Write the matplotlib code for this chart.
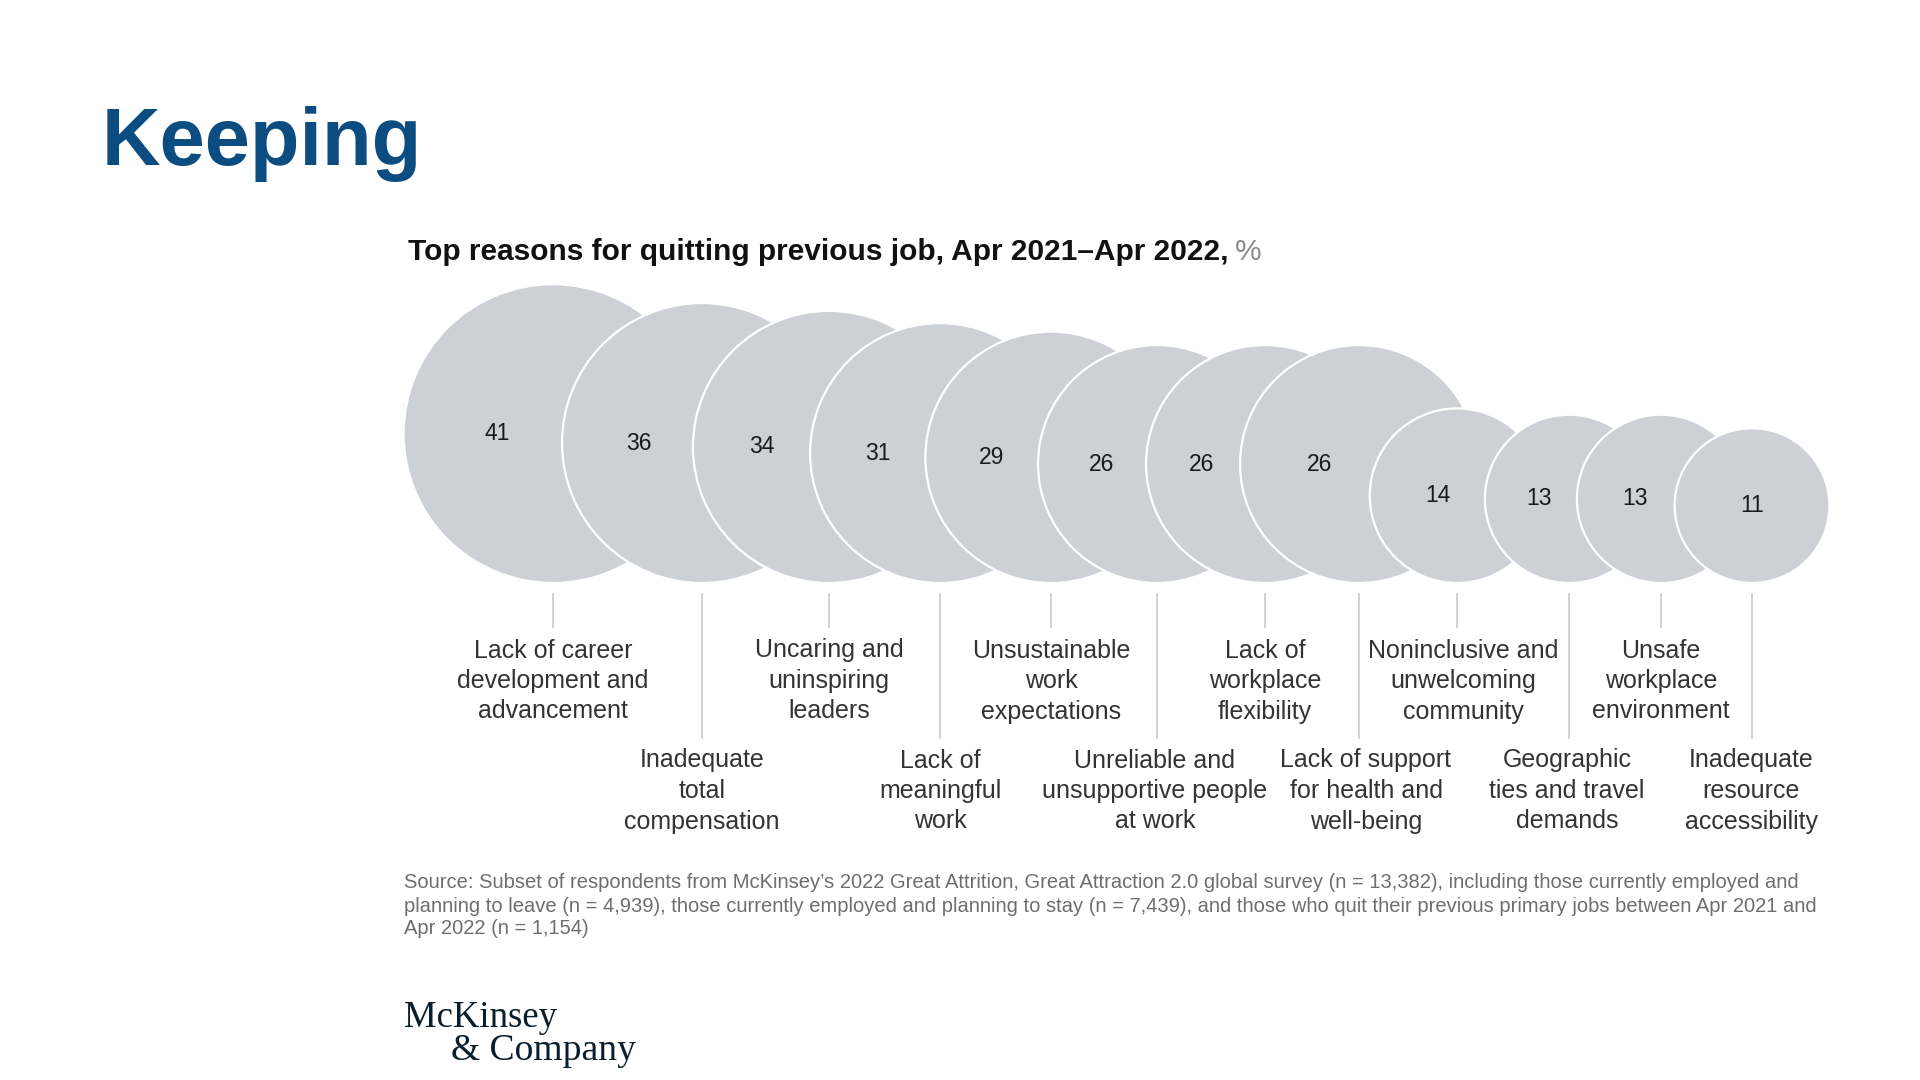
import matplotlib
matplotlib.use("Agg")
import matplotlib.pyplot as plt
from matplotlib.patches import Circle
from matplotlib import font_manager as fm
import numpy as np

# ---------------- data ----------------
reasons = [
    "Lack of career\ndevelopment and\nadvancement",
    "Inadequate\ntotal\ncompensation",
    "Uncaring and\nuninspiring\nleaders",
    "Lack of\nmeaningful\nwork",
    "Unsustainable\nwork\nexpectations",
    "Unreliable and\nunsupportive people\nat work",
    "Lack of\nworkplace\nflexibility",
    "Lack of support\nfor health and\nwell-being",
    "Noninclusive and\nunwelcoming\ncommunity",
    "Geographic\nties and travel\ndemands",
    "Unsafe\nworkplace\nenvironment",
    "Inadequate\nresource\naccessibility",
]
values = [41, 36, 34, 31, 29, 26, 26, 26, 14, 13, 13, 11]

title_main = "Keeping"
chart_title = "Top reasons for quitting previous job, Apr 2021\u2013Apr 2022,"
chart_unit = "%"
source_lines = [
    "Source: Subset of respondents from McKinsey\u2019s 2022 Great Attrition, Great Attraction 2.0 global survey (n = 13,382), including those currently employed and",
    "planning to leave (n = 4,939), those currently employed and planning to stay (n = 7,439), and those who quit their previous primary jobs between Apr 2021 and",
    "Apr 2022 (n = 1,154)",
]
logo_lines = ["McKinsey", "& Company"]

# ---------------- layout (pixels) ----------------
bubble_x = [553, 702, 829, 940, 1051, 1157, 1265, 1359, 1457, 1569, 1661, 1752]
label_dx = [0, 0, 0, 0, 0, -2, 0, 7, 6, -2, 0, -1]
baseline_y = 583
k_radius = 23.33          # px per sqrt(value)
tick_top = 594
tick_short_end = 627
tick_long_end = 738
row1_y = 650.5
row2_y = 760.5
line_pitch = 30.5

names = {f.name for f in fm.fontManager.ttflist}
SANS = "Liberation Sans" if "Liberation Sans" in names else "DejaVu Sans"
SERIF = "Liberation Serif" if "Liberation Serif" in names else "DejaVu Serif"

BUBBLE = "#cdd0d4"
TEXT = "#333333"
BLUE = "#0b4d80"

fig = plt.figure(figsize=(19.2, 10.8), dpi=100)
ax = fig.add_axes([0, 0, 1, 1])
ax.set_xlim(0, 1920)
ax.set_ylim(1080, 0)
ax.axis("off")
fig.canvas.draw()
renderer = fig.canvas.get_renderer()


def fit(t, w):
    bb = t.get_window_extent(renderer=renderer)
    t.set_fontsize(t.get_fontsize() * w / bb.width)
    return t


# bubbles
radii = [k_radius * np.sqrt(v) for v in values]
centers_y = [baseline_y - r for r in radii]
for i, (x, r, cy) in enumerate(zip(bubble_x, radii, centers_y)):
    ax.add_patch(Circle((x, cy), r, facecolor=BUBBLE, edgecolor="white",
                        linewidth=1.6, zorder=2 + i))

# value labels centred on visible part of each bubble
n = len(values)
for i in range(n):
    x, r, cy = bubble_x[i], radii[i], centers_y[i]
    if i < n - 1:
        xn, rn, cyn = bubble_x[i + 1], radii[i + 1], centers_y[i + 1]
        dy = cy - cyn
        right = xn - np.sqrt(max(rn ** 2 - dy ** 2, 0))
        left = x - r
        lx = left + 0.59 * (right - left)
    else:
        lx = x
    ax.text(lx, cy, str(values[i]), ha="center", va="center", fontsize=16.5,
            color="#1a1a1a", family=SANS, zorder=50)

# tick lines and category labels
for i, (x, lab) in enumerate(zip(bubble_x, reasons)):
    top_row = (i % 2 == 0)
    end = tick_short_end if top_row else tick_long_end
    ax.plot([x, x], [tick_top, end], color="#c9c9c9", lw=1.2, zorder=1)
    y0 = row1_y if top_row else row2_y
    for j, line in enumerate(lab.split("\n")):
        ax.text(x + label_dx[i], y0 + j * line_pitch, line, ha="center",
                va="center", fontsize=18, color=TEXT, family=SANS)

# headline
t = ax.text(102, 165, title_main, ha="left", va="baseline", fontsize=60,
            fontweight="bold", color=BLUE, family=SANS)
fit(t, 321)

# chart title
ct = ax.text(408, 252, chart_title, ha="left", va="center", fontsize=20,
             fontweight="bold", color="#111111", family=SANS)
fit(ct, 820)
fig.canvas.draw()
bb = ct.get_window_extent(renderer=renderer)
inv = ax.transData.inverted()
x_end = inv.transform((bb.x1, bb.y0))[0]
ax.text(x_end + 6, 252, chart_unit, ha="left", va="center",
        fontsize=ct.get_fontsize(), color="#8a8a8a", family=SANS)

# source
src_y = [882, 906, 929]
s0 = ax.text(404, src_y[0], source_lines[0], ha="left", va="center",
             fontsize=12, color="#6e6e6e", family=SANS)
fit(s0, 1392)
fs = s0.get_fontsize()
for line, y in zip(source_lines[1:], src_y[1:]):
    ax.text(404, y, line, ha="left", va="center", fontsize=fs,
            color="#6e6e6e", family=SANS)

# logo
l1 = ax.text(404, 1027, logo_lines[0], ha="left", va="baseline", fontsize=26,
             color="#0a1f2e", family=SERIF)
fit(l1, 153)
l2 = ax.text(451, 1060, logo_lines[1], ha="left", va="baseline",
             fontsize=l1.get_fontsize(), color="#0a1f2e", family=SERIF)
fit(l2, 185)

fig.savefig("out.png", dpi=100, facecolor="white")
